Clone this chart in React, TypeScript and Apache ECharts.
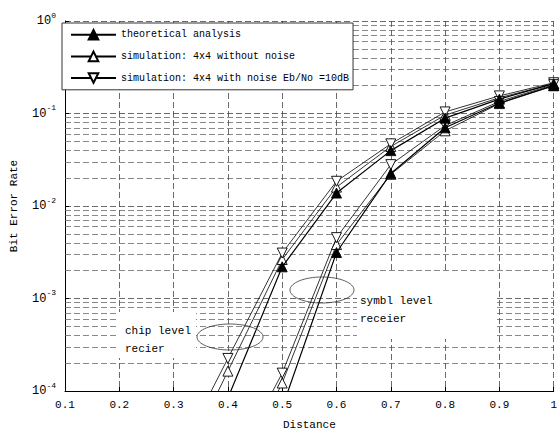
import React, { useEffect, useRef } from "react";
import * as echarts from "echarts";

// Distance values (x)
const chipX = [0.3, 0.4, 0.5, 0.6, 0.7, 0.8, 0.9, 1.0];
const symbX = [0.4, 0.5, 0.6, 0.7, 0.8, 0.9, 1.0];

// chip level receiver
const chipTheory = [null, 8.4e-5, 2.2e-3, 1.38e-2, 3.97e-2, 0.089, 0.143, 0.21];
const chipNoNoise = [1.0e-5, 1.64e-4, 2.64e-3, 1.6e-2, 4.4e-2, 0.096, 0.148, 0.21];
const chipNoise = [1.6e-5, 2.25e-4, 3.1e-3, 1.85e-2, 4.7e-2, 0.104, 0.155, 0.215];

// symbol level receiver
const symbTheory = [null, 6.6e-5, 3.14e-3, 2.25e-2, 0.07, 0.13, 0.2];
const symbNoNoise = [8e-6, 1.22e-4, 3.83e-3, 2.2e-2, 0.065, 0.128, 0.2];
const symbNoise = [1.2e-5, 1.56e-4, 4.55e-3, 2.8e-2, 0.074, 0.135, 0.205];

const seriesNames = [
  "theoretical analysis",
  "simulation: 4x4 without noise",
  "simulation: 4x4 with noise Eb/No =10dB",
];

const xTicks = [0.1, 0.2, 0.3, 0.4, 0.5, 0.6, 0.7, 0.8, 0.9, 1];
const decades = [-4, -3, -2, -1];
const minorSteps = [2, 3, 4, 5, 6, 7, 8, 9];

const FONT = "Liberation Mono";

export default function App() {
  const ref = useRef<HTMLDivElement>(null);
  useEffect(() => {
    if (!ref.current) return;
    const chart = echarts.init(ref.current, undefined, { renderer: "svg" });

    const minorGrid: number[] = [];
    decades.forEach((d) => minorSteps.forEach((k) => minorGrid.push(k * Math.pow(10, d))));

    const mk = (name: string, xs: number[], ys: (number | null)[], kind: string) => ({
      name,
      type: "line",
      data: xs.map((x, i) => [x, ys[i]]).filter((p) => p[1] != null),
      symbol: "triangle",
      symbolSize: 10,
      symbolRotate: kind === "noise" ? 180 : 0,
      showAllSymbol: true,
      clip: true,
      itemStyle: {
        color: kind === "theory" ? "#000" : "#fff",
        borderColor: "#000",
        borderWidth: 0.9,
      },
      lineStyle: { color: "#000", width: kind === "theory" ? 1.2 : 0.8 },
      emphasis: { disabled: true },
      z: kind === "theory" ? 4 : 3,
    });

    chart.setOption({
      animation: false,
      backgroundColor: "#fff",
      textStyle: { fontFamily: FONT, color: "#000" },
      grid: { left: 57, right: 4, top: 21, bottom: 40 },
      legend: {
        data: seriesNames,
        orient: "vertical",
        left: 62,
        top: 23,
        padding: [6, 4, 6, 8],
        itemGap: 10,
        itemWidth: 45,
        itemHeight: 12,
        backgroundColor: "#fff",
        borderColor: "#333",
        borderWidth: 1,
        textStyle: { fontFamily: FONT, fontSize: 10, color: "#000" },
        selectedMode: false,
      },
      xAxis: {
        type: "value",
        min: 0.1,
        max: 1,
        interval: 0.1,
        name: "Distance",
        nameLocation: "middle",
        nameGap: 28,
        nameTextStyle: { fontFamily: FONT, fontSize: 11, color: "#000" },
        axisLine: { show: true, lineStyle: { color: "#000", width: 1 } },
        axisTick: { show: true, inside: true, length: 4, lineStyle: { color: "#000" } },
        axisLabel: {
          fontFamily: FONT,
          fontSize: 11,
          color: "#000",
          margin: 8,
          formatter: (v: number) => {
            const t = xTicks.find((x) => Math.abs(x - v) < 1e-6);
            return t === 1 ? "1" : (t ?? v).toFixed(1);
          },
        },
        splitLine: { show: true, lineStyle: { type: [6, 3], color: "#444", width: 0.8 } },
      },
      yAxis: {
        type: "log",
        logBase: 10,
        min: 1e-4,
        max: 1,
        name: "Bit Error Rate",
        nameLocation: "middle",
        nameGap: 46,
        nameTextStyle: { fontFamily: FONT, fontSize: 11, color: "#000" },
        axisLine: { show: true, lineStyle: { color: "#000", width: 1 } },
        axisTick: { show: true, inside: true, length: 4, lineStyle: { color: "#000" } },
        axisLabel: {
          margin: 9,
          formatter: (v: number) => `{b|10}{s|${Math.round(Math.log10(v))}}`,
          rich: {
            b: { fontFamily: FONT, fontSize: 12, color: "#000" },
            s: { fontFamily: FONT, fontSize: 8, color: "#000", padding: [0, 0, 12, 0] },
          },
        },
        splitLine: { show: true, lineStyle: { type: [6, 3], color: "#444", width: 0.8 } },
      },
      series: [
        {
          name: "minor",
          type: "line",
          data: [],
          silent: true,
          z: 1,
          markLine: {
            silent: true,
            symbol: "none",
            precision: 12,
            z: 1,
            label: { show: false },
            lineStyle: { type: [6, 3], color: "#555", width: 0.7 },
            data: minorGrid.map((v) => ({ yAxis: v })),
          },
        },
        mk(seriesNames[0], chipX, chipTheory, "theory"),
        mk(seriesNames[1], chipX, chipNoNoise, "clean"),
        mk(seriesNames[2], chipX, chipNoise, "noise"),
        mk(seriesNames[0], symbX, symbTheory, "theory"),
        mk(seriesNames[1], symbX, symbNoNoise, "clean"),
        mk(seriesNames[2], symbX, symbNoise, "noise"),
      ],
      graphic: [
        {
          type: "rect",
          shape: { x: 116, y: 312, width: 80, height: 46 },
          style: { fill: "#fff" },
          z: 2,
        },
        {
          type: "rect",
          shape: { x: 357, y: 273, width: 140, height: 66 },
          style: { fill: "#fff" },
          z: 2,
        },
        {
          type: "ellipse",
          shape: { cx: 230, cy: 337, rx: 33, ry: 13 },
          style: { fill: "none", stroke: "#333", lineWidth: 0.8 },
          z: 10,
        },
        {
          type: "ellipse",
          shape: { cx: 322, cy: 290, rx: 32, ry: 13 },
          style: { fill: "none", stroke: "#333", lineWidth: 0.8 },
          z: 10,
        },
        {
          type: "text",
          x: 125,
          y: 322,
          style: { text: "chip level\nrecier", font: `11px "${FONT}"`, fill: "#000", lineHeight: 18 },
          z: 10,
        },
        {
          type: "text",
          x: 360,
          y: 292,
          style: { text: "symbl level\nreceier", font: `11px "${FONT}"`, fill: "#000", lineHeight: 18 },
          z: 10,
        },
      ],
    });
    return () => chart.dispose();
  }, []);
  return (
    <div
      ref={ref}
      style={{ position: "fixed", left: 0, top: 0, width: 560, height: 435 }}
    />
  );
}
